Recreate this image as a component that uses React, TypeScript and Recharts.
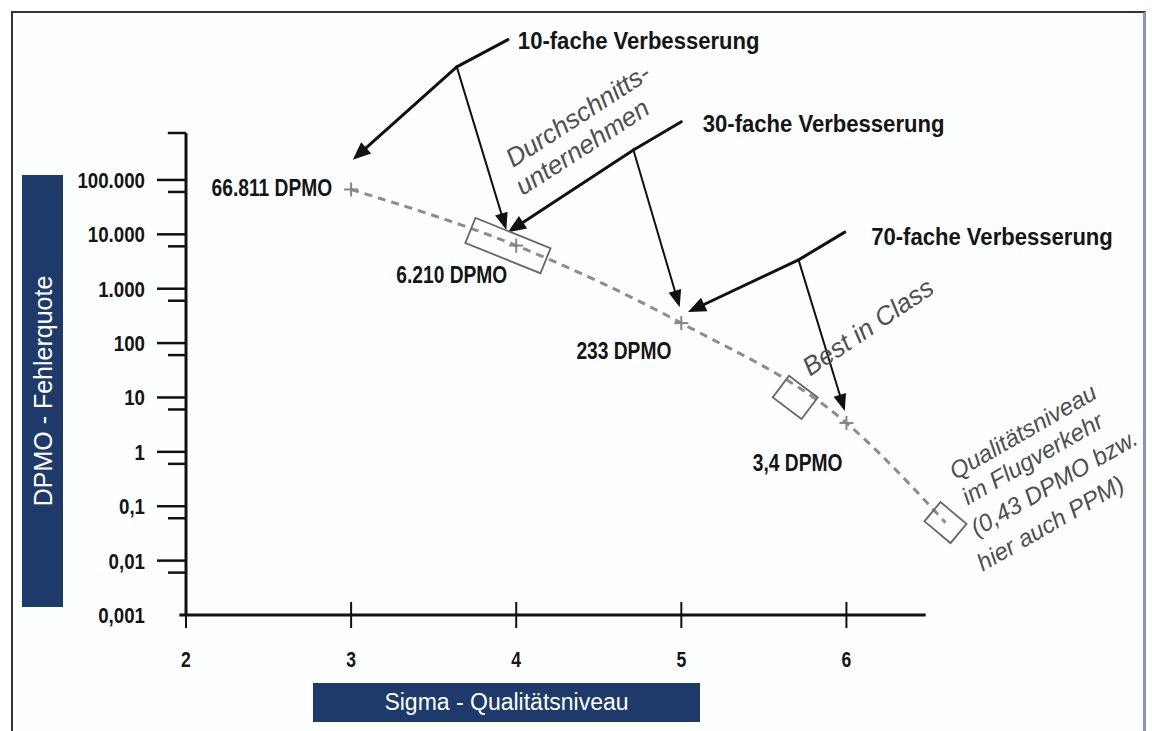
import React from "react";
import {
    ComposedChart,
    Line,
    XAxis,
    YAxis,
    ReferenceLine,
    ReferenceDot,
    LabelList,
} from "recharts";

const FONT = '"Liberation Sans", Arial, Helvetica, sans-serif';
const NAVY = "#1d3a6a";

// sigma curve (x = sigma level, y = DPMO)
const sigmaLevels = [3, 4, 5, 6, 6.6];
const dpmoValues = [66811, 6210, 233, 3.4, 0.05];
const pointLabels = ["66.811 DPMO", "6.210 DPMO", "233 DPMO", "3,4 DPMO", ""];
const hasMarker = [true, true, true, true, false];

const xTicks = [2, 3, 4, 5, 6];
const yTicks = [0.001, 0.01, 0.1, 1, 10, 100, 1000, 10000, 100000];
const yTickLabels = ["0,001", "0,01", "0,1", "1", "10", "100", "1.000", "10.000", "100.000"];

// callouts, given as [sigma, log10(DPMO)]
const calloutTexts = ["10-fache Verbesserung", "30-fache Verbesserung", "70-fache Verbesserung"];
const calloutTextAt = [[4.01, 7.41], [5.13, 5.88], [6.15, 3.8]];
const calloutFrom = [[3.95, 7.58], [5.0, 6.07], [5.99, 4.04]];
const calloutJoint = [[3.64, 7.08], [4.71, 5.55], [5.71, 3.53]];
const calloutThickTip = [[3.01, 5.37], [3.95, 4.04], [5.04, 2.57]];
const calloutThinTip = [[3.94, 4.08], [4.99, 2.66], [5.99, 0.75]];

// rotated boxes on the curve
const bandSigma = [3.95, 5.69, 6.6];
const bandDpmo = [6210, 10, 0.05];

// grey italic notes
const noteLines = [
    ["Durchschnitts-", "unternehmen"],
    ["Best in Class"],
    ["Qualitätsniveau", "im Flugverkehr", "(0,43 DPMO bzw.", "hier auch PPM)"],
];
const noteAt = [[3.98, 5.22], [5.78, 1.38], [6.66, -0.52]];

const data = sigmaLevels.map((s, i) => ({
    sigma: s,
    dpmo: dpmoValues[i],
    label: pointLabels[i],
}));

const dec = (d: number) => 10 ** d;

// styling for the pieces above
const labelOffset = [[-19, 7], [-9, 37], [-10, 36], [-4, 48]];
const bandSize = [[81, 27, 22], [36, 27, 37], [34, 25, 40]];
const noteStyle = [
    { angle: -33, size: 26, offsets: [[0, 0], [-7, 29]] },
    { angle: -34, size: 26, offsets: [[0, 0]] },
    { angle: -30, size: 24, offsets: [[0, 0], [-2, 28], [-10, 60], [-22, 93]] },
];

function YTick(props: any) {
    const { x, y, payload } = props;
    const i = yTicks.indexOf(payload.value);
    return (
        <g>
            {i > 0 && <line x1={x - 29} y1={y} x2={x} y2={y} stroke="#111" strokeWidth={2.5} />}
            {i > 0 && <line x1={x - 18} y1={y + 12} x2={x} y2={y + 12} stroke="#111" strokeWidth={2.5} />}
            <text
                transform={`translate(${x - 41},${y}) scale(0.85,1)`}
                dy="0.36em"
                textAnchor="end"
                fontFamily={FONT}
                fontSize={22}
                fontWeight="bold"
                fill="#151515"
            >
                {yTickLabels[i]}
            </text>
        </g>
    );
}

function XTick(props: any) {
    const { x, y, payload } = props;
    return (
        <g>
            <line x1={x} y1={y - 13} x2={x} y2={y + 13} stroke="#111" strokeWidth={2} />
            <text
                transform={`translate(${x},${y + 52}) scale(0.8,1)`}
                textAnchor="middle"
                fontFamily={FONT}
                fontSize={22}
                fontWeight="bold"
                fill="#151515"
            >
                {payload.value}
            </text>
        </g>
    );
}

function PlusDot(props: any) {
    const { cx, cy, index } = props;
    if (!hasMarker[index]) return <g key={`d${index}`} />;
    return (
        <g key={`d${index}`} stroke="#858585" strokeWidth={2}>
            <line x1={cx - 7} y1={cy} x2={cx + 7} y2={cy} />
            <line x1={cx} y1={cy - 7} x2={cx} y2={cy + 7} />
        </g>
    );
}

function PointLabel(props: any) {
    const { x, y, value, index } = props;
    if (!value) return null;
    const [dx, dy] = labelOffset[index];
    return (
        <text
            transform={`translate(${x + dx},${y + dy}) scale(0.8,1)`}
            textAnchor="end"
            fontFamily={FONT}
            fontSize={24}
            fontWeight="bold"
            fill="#151515"
        >
            {value}
        </text>
    );
}

const arrowShape = (width: number, headLen: number, headHalf: number) => (p: any) => {
    const { x1, y1, x2, y2 } = p;
    const len = Math.hypot(x2 - x1, y2 - y1) || 1;
    const ux = (x2 - x1) / len;
    const uy = (y2 - y1) / len;
    const bx = x2 - ux * headLen;
    const by = y2 - uy * headLen;
    const px = -uy * headHalf;
    const py = ux * headHalf;
    return (
        <g>
            <line x1={x1} y1={y1} x2={bx + ux * 2} y2={by + uy * 2} stroke="#111" strokeWidth={width} strokeLinecap="round" />
            <polygon points={`${x2},${y2} ${bx + px},${by + py} ${bx - px},${by - py}`} fill="#111" />
        </g>
    );
};

const plainLine = (p: any) => (
    <line x1={p.x1} y1={p.y1} x2={p.x2} y2={p.y2} stroke="#111" strokeWidth={3} strokeLinecap="round" />
);

const bandShape = (i: number) => (p: any) => {
    const [w, h, a] = bandSize[i];
    return (
        <rect
            x={-w / 2}
            y={-h / 2}
            width={w}
            height={h}
            transform={`translate(${p.cx},${p.cy}) rotate(${a})`}
            fill="none"
            stroke="#666"
            strokeWidth={1.8}
        />
    );
};

const noteShape = (i: number) => (p: any) => {
    const st = noteStyle[i];
    return (
        <g transform={`translate(${p.cx},${p.cy}) rotate(${st.angle})`}>
            {noteLines[i].map((t, k) => (
                <text
                    key={k}
                    x={st.offsets[k][0]}
                    y={st.offsets[k][1]}
                    fontFamily={FONT}
                    fontSize={st.size}
                    fontStyle="italic"
                    fill="#4f4f4f"
                >
                    {t}
                </text>
            ))}
        </g>
    );
};

const calloutShape = (i: number) => (p: any) => (
    <text
        transform={`translate(${p.cx},${p.cy}) scale(0.96,1)`}
        fontFamily={FONT}
        fontSize={23}
        fontWeight="bold"
        fill="#151515"
    >
        {calloutTexts[i]}
    </text>
);

export default function App() {
    return (
        <div style={{ position: "absolute", left: 0, top: 0, width: 1152, height: 731, background: "#fff", overflow: "hidden" }}>
            <div
                style={{
                    position: "absolute",
                    left: 11,
                    top: 11,
                    width: 1130,
                    height: 730,
                    borderTop: "2px solid #333",
                    borderLeft: "2px solid #333",
                    borderRight: "3px solid #8797b0",
                    background: "#fdfeff",
                }}
            />
            <div
                style={{
                    position: "absolute",
                    left: 22,
                    top: 175,
                    width: 41,
                    height: 432,
                    background: NAVY,
                }}
            >
                <div
                    style={{
                        position: "absolute",
                        left: "50%",
                        top: "50%",
                        transform: "translate(-50%,-50%) rotate(-90deg)",
                        whiteSpace: "nowrap",
                        color: "#fff",
                        fontFamily: FONT,
                        fontSize: 25,
                    }}
                >
                    DPMO - Fehlerquote
                </div>
            </div>
            <div
                style={{
                    position: "absolute",
                    left: 313,
                    top: 683,
                    width: 387,
                    height: 39,
                    background: NAVY,
                    color: "#fff",
                    fontFamily: FONT,
                    fontSize: 23,
                    lineHeight: "39px",
                    textAlign: "center",
                }}
            >
                Sigma - Qualitätsniveau
            </div>
            <div style={{ position: "absolute", left: 0, top: 0 }}>
                <ComposedChart
                    width={1152}
                    height={731}
                    data={data}
                    margin={{ top: 133, right: 190, bottom: 56, left: 66 }}
                >
                    <XAxis
                        dataKey="sigma"
                        type="number"
                        domain={[2, 6.7]}
                        ticks={xTicks}
                        allowDataOverflow
                        axisLine={false}
                        tickLine={false}
                        tickSize={0}
                        tickMargin={0}
                        height={60}
                        tick={<XTick />}
                    />
                    <YAxis
                        type="number"
                        scale="log"
                        domain={[0.001, 730000]}
                        ticks={yTicks}
                        allowDataOverflow
                        axisLine={false}
                        tickLine={false}
                        tickSize={0}
                        tickMargin={0}
                        width={120}
                        tick={<YTick />}
                    />
                    <ReferenceLine
                        segment={[{ x: 2, y: 0.001 }, { x: 2, y: 730000 }]}
                        stroke="#111"
                        strokeWidth={3}
                        ifOverflow="visible"
                    />
                    <ReferenceLine
                        segment={[{ x: 1.89, y: 730000 }, { x: 2, y: 730000 }]}
                        stroke="#111"
                        strokeWidth={2.5}
                        ifOverflow="visible"
                    />
                    <ReferenceLine
                        segment={[{ x: 1.96, y: 0.001 }, { x: 6.48, y: 0.001 }]}
                        stroke="#111"
                        strokeWidth={3}
                        ifOverflow="visible"
                    />
                    <Line
                        dataKey="dpmo"
                        type="monotone"
                        stroke="#8c8c8c"
                        strokeWidth={3}
                        strokeDasharray="8 6"
                        dot={PlusDot}
                        activeDot={false}
                        isAnimationActive={false}
                    >
                        <LabelList dataKey="label" content={PointLabel} />
                    </Line>
                    {bandSigma.map((s, i) => (
                        <ReferenceDot key={`b${i}`} x={s} y={bandDpmo[i]} ifOverflow="visible" shape={bandShape(i)} />
                    ))}
                    {noteAt.map(([s, d], i) => (
                        <ReferenceDot key={`n${i}`} x={s} y={dec(d)} ifOverflow="visible" shape={noteShape(i)} />
                    ))}
                    {calloutTexts.map((_, i) => (
                        <ReferenceLine
                            key={`l${i}`}
                            segment={[
                                { x: calloutFrom[i][0], y: dec(calloutFrom[i][1]) },
                                { x: calloutJoint[i][0], y: dec(calloutJoint[i][1]) },
                            ]}
                            ifOverflow="visible"
                            shape={plainLine}
                        />
                    ))}
                    {calloutTexts.map((_, i) => (
                        <ReferenceLine
                            key={`a${i}`}
                            segment={[
                                { x: calloutJoint[i][0], y: dec(calloutJoint[i][1]) },
                                { x: calloutThickTip[i][0], y: dec(calloutThickTip[i][1]) },
                            ]}
                            ifOverflow="visible"
                            shape={arrowShape(3, 18, 7.5)}
                        />
                    ))}
                    {calloutTexts.map((_, i) => (
                        <ReferenceLine
                            key={`t${i}`}
                            segment={[
                                { x: calloutJoint[i][0], y: dec(calloutJoint[i][1]) },
                                { x: calloutThinTip[i][0], y: dec(calloutThinTip[i][1]) },
                            ]}
                            ifOverflow="visible"
                            shape={arrowShape(2, 17, 6.5)}
                        />
                    ))}
                    {calloutTextAt.map(([s, d], i) => (
                        <ReferenceDot key={`c${i}`} x={s} y={dec(d)} ifOverflow="visible" shape={calloutShape(i)} />
                    ))}
                </ComposedChart>
            </div>
        </div>
    );
}
